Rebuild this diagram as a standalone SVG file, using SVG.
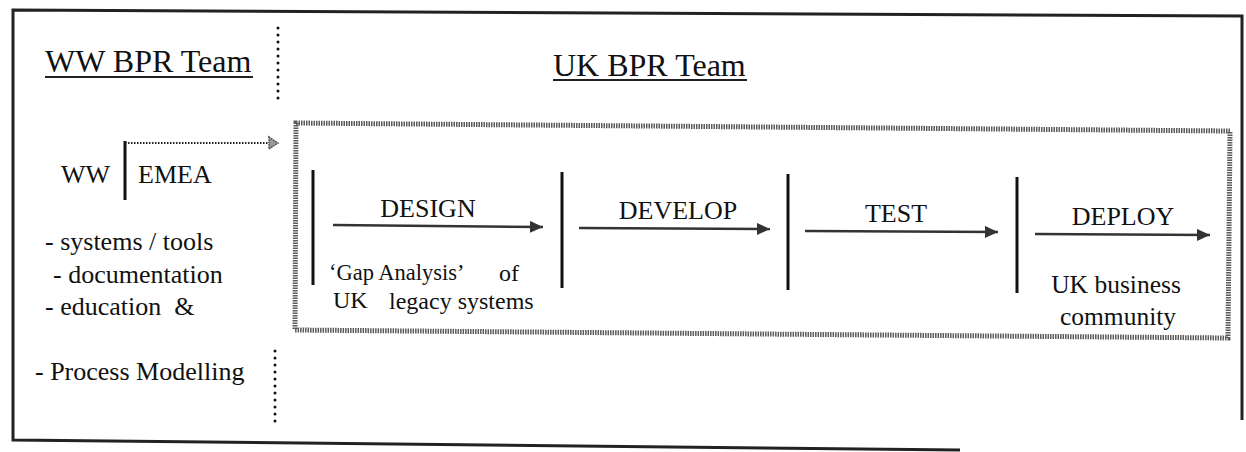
<svg xmlns="http://www.w3.org/2000/svg" width="1246" height="452" viewBox="0 0 1246 452">
<style>
  .title { font-size: 32px; }
  .phase { font-size: 26px; text-anchor: middle; }
  .body { font-size: 26px; }
  .cap { font-size: 24px; }
  .bar { stroke: #111; stroke-width: 3; fill: none; }
  .ul { stroke: #222; stroke-width: 2; }
  .sep { stroke: #111; stroke-width: 3; stroke-linecap: round; stroke-dasharray: 0 7; fill: none; }
  .arrow { stroke: #333; stroke-width: 2.5; fill: none; marker-end: url(#ah); }
  .stipple { fill: none; stroke: #5a5a5a; stroke-width: 5; stroke-dasharray: 1.5 1; }
</style>
<defs>
  <marker id="ah" markerUnits="userSpaceOnUse" markerWidth="16" markerHeight="14" refX="13" refY="6" orient="auto">
    <path d="M0,0 L13,6 L0,12 Z" fill="#333"/>
  </marker>
</defs>

<rect width="1246" height="452" fill="#fff"/>

<g id="frame">
  <path d="M960,450 L13,440 L13,10 L1242,16 L1242,420" fill="none" stroke="#222" stroke-width="3"/>
</g>

<g id="separators">
  <line class="sep" x1="278" y1="28" x2="278" y2="100"/>
  <line class="sep" x1="275" y1="351" x2="275" y2="423"/>
</g>

<g font-family="Liberation Serif, 'Times New Roman', serif" fill="#111">
<g id="ww-bpr-team">
  <text class="title" x="45" y="72">WW BPR Team</text>
  <line class="ul" x1="45" y1="77" x2="253" y2="77"/>
</g>

<g id="uk-bpr-team">
  <text class="title" x="553" y="76">UK BPR Team</text>
  <line class="ul" x1="553" y1="80" x2="747" y2="80"/>
</g>

<g id="ww-emea">
  <text x="61" y="183" font-size="26">WW</text>
  <line class="bar" x1="125" y1="141" x2="125" y2="200" stroke-width="2.5"/>
  <text x="138" y="183" font-size="26">EMEA</text>
</g>

<g id="ww-list">
  <text class="body" x="45" y="250">- systems / tools</text>
  <text class="body" x="53" y="283">- documentation</text>
  <text class="body" x="45" y="315">- education&#160; &amp;</text>
  <text class="body" x="35" y="380">- Process Modelling</text>
</g>

<g id="uk-process-box">
  <path class="stipple" d="M296,123 L1230,131 L1228,338 L295,330 Z"/>
</g>

<g id="phase-bars">
  <line class="bar" x1="313" y1="170" x2="313" y2="285"/>
  <line class="bar" x1="562" y1="172" x2="562" y2="288"/>
  <line class="bar" x1="788" y1="174" x2="788" y2="290"/>
  <line class="bar" x1="1017" y1="177" x2="1017" y2="293"/>
</g>

<g id="design">
  <text class="phase" x="428" y="217">DESIGN</text>
  <text x="329" y="280" font-size="22.5">‘Gap Analysis’</text>
  <text class="cap" x="499" y="281">of</text>
  <text class="cap" x="333" y="308">UK</text>
  <text class="cap" x="389" y="309">legacy systems</text>
</g>

<g id="develop">
  <text class="phase" x="678" y="219">DEVELOP</text>
</g>

<g id="test">
  <text class="phase" x="896" y="222">TEST</text>
</g>

<g id="deploy">
  <text class="phase" x="1123" y="225">DEPLOY</text>
  <text x="1116" y="293" text-anchor="middle" font-size="25.5">UK business</text>
  <text x="1118" y="325" text-anchor="middle" font-size="25.5">community</text>
</g>
</g>

<g id="connectors">
  <line class="arrow" x1="333" y1="225" x2="543" y2="227"/>
  <line class="arrow" x1="579" y1="228" x2="770" y2="229"/>
  <line class="arrow" x1="805" y1="231" x2="998" y2="232"/>
  <line class="arrow" x1="1035" y1="234" x2="1210" y2="235"/>
  <path d="M125,143 L270,143" fill="none" stroke="#222" stroke-width="2" stroke-dasharray="1.5 1.5"/>
  <path d="M269,137 L278,143 L269,149 Z" fill="#999" stroke="#444" stroke-width="1.5" stroke-dasharray="1.5 1"/>
</g>
</svg>
